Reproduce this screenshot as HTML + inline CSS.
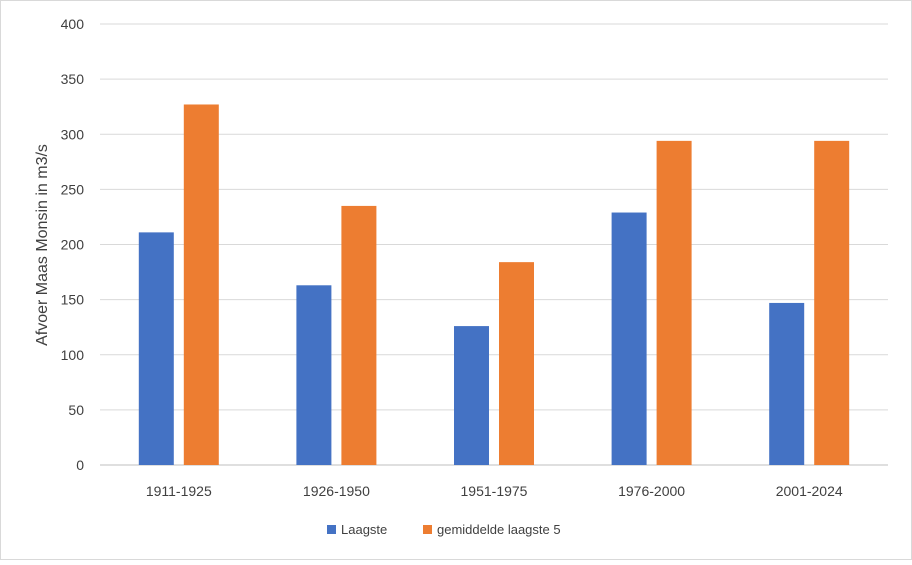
<!DOCTYPE html>
<html><head><meta charset="utf-8"><style>
body{margin:0;background:#fff;}
svg text{font-family:"Liberation Sans",sans-serif;fill:#404040;}
</style></head><body>
<svg id="chart" width="912" height="560">
<rect x="0.5" y="0.5" width="911" height="559" fill="#fff" stroke="#d9d9d9"/>
<g id="grid"></g><g id="bars"></g><g id="labels"></g>
<text x="47" y="245" font-size="16" text-anchor="middle" transform="rotate(-90 47 245)">Afvoer Maas Monsin in m3/s</text>
<g>
<rect x="327" y="525" width="9" height="9" fill="#4472c4"/>
<text x="341" y="534" font-size="13">Laagste</text>
<rect x="423" y="525" width="9" height="9" fill="#ed7d31"/>
<text x="437" y="534" font-size="13">gemiddelde laagste 5</text>
</g>
</svg>
<script>
const categories=["1911-1925","1926-1950","1951-1975","1976-2000","2001-2024"];
const laagste=[211,163,126,229,147];
const gemiddelde=[327,235,184,294,294];
const yTicks=[0,50,100,150,200,250,300,350,400];
const NS="http://www.w3.org/2000/svg";
const x0=100,x1=888,y0=465,y1=24,yMax=400;
const y=v=>y0-(v/yMax)*(y0-y1);
const bw=(x1-x0)/categories.length;
const grid=document.getElementById('grid'),bars=document.getElementById('bars'),labels=document.getElementById('labels');
function mk(tag,attrs,parent){const e=document.createElementNS(NS,tag);for(const k in attrs)e.setAttribute(k,attrs[k]);parent.appendChild(e);return e;}
yTicks.forEach(t=>{
 const l=mk('line',{x1:x0,x2:x1,y1:y(t),y2:y(t),stroke:t===0?'#bfbfbf':'#d9d9d9','stroke-width':1},grid);
 
 
 const tx=mk('text',{x:84,y:y(t)+5,'font-size':14,'text-anchor':'end'},labels);
 tx.textContent=t;
 
 
});
categories.forEach((c,i)=>{
 const cx=x0+bw*(i+0.5);
 const b1=mk('rect',{x:cx-40,y:y(laagste[i]),width:35,height:y0-y(laagste[i]),fill:'#4472c4'},bars);
 
 
 const b2=mk('rect',{x:cx+5,y:y(gemiddelde[i]),width:35,height:y0-y(gemiddelde[i]),fill:'#ed7d31'},bars);
 
 
 const t=mk('text',{x:cx,y:496,'font-size':14,'text-anchor':'middle'},labels);
 t.textContent=c;
 
 
});
</script>
</body></html>
